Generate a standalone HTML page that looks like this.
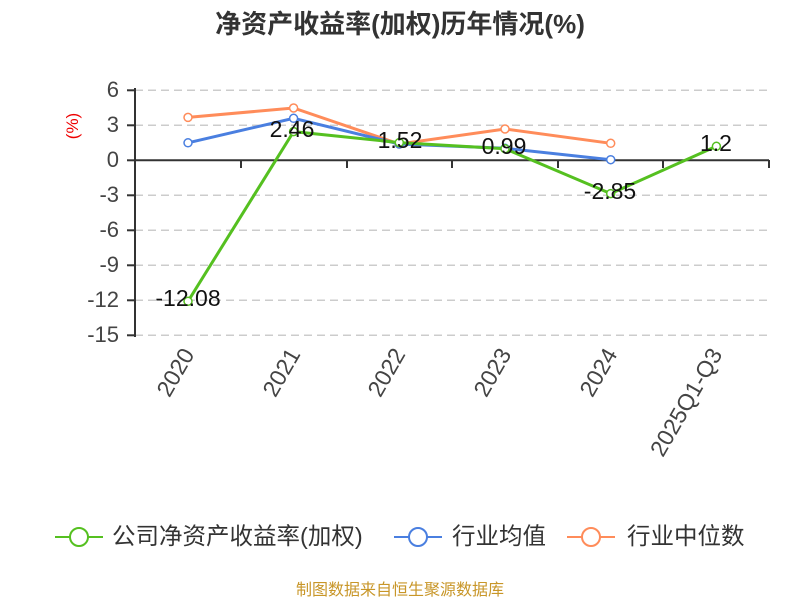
<!DOCTYPE html><html><head><meta charset="utf-8"><style>body{margin:0;background:#fff}svg{display:block}text{font-family:"Liberation Sans","Noto Sans CJK SC",sans-serif}</style></head><body>
<svg width="800" height="600" viewBox="0 0 800 600">
<text x="400" y="33" text-anchor="middle" font-size="26" font-weight="bold" fill="#333">净资产收益率(加权)历年情况(%)</text>
<g stroke="#ccc" stroke-dasharray="8,5" stroke-width="1.5">
<line x1="135" x2="769" y1="90.3" y2="90.3"/><line x1="135" x2="769" y1="125.3" y2="125.3"/><line x1="135" x2="769" y1="195.3" y2="195.3"/><line x1="135" x2="769" y1="230.3" y2="230.3"/><line x1="135" x2="769" y1="265.3" y2="265.3"/><line x1="135" x2="769" y1="300.3" y2="300.3"/><line x1="135" x2="769" y1="335.3" y2="335.3"/></g>
<g stroke="#333" stroke-width="2"><line x1="135" y1="88" x2="135" y2="337"/><line x1="135" y1="160.3" x2="769" y2="160.3"/>
<line x1="241" y1="160" x2="241" y2="168"/><line x1="347" y1="160" x2="347" y2="168"/><line x1="452" y1="160" x2="452" y2="168"/><line x1="558" y1="160" x2="558" y2="168"/><line x1="663" y1="160" x2="663" y2="168"/><line x1="769" y1="160" x2="769" y2="168"/>
<line x1="127" x2="135" y1="90.3" y2="90.3"/><line x1="127" x2="135" y1="125.3" y2="125.3"/><line x1="127" x2="135" y1="160.3" y2="160.3"/><line x1="127" x2="135" y1="195.3" y2="195.3"/><line x1="127" x2="135" y1="230.3" y2="230.3"/><line x1="127" x2="135" y1="265.3" y2="265.3"/><line x1="127" x2="135" y1="300.3" y2="300.3"/><line x1="127" x2="135" y1="335.3" y2="335.3"/></g>
<g font-size="22" fill="#444" text-anchor="end" dominant-baseline="middle">
<text x="119" y="91">6</text><text x="119" y="126">3</text><text x="119" y="161">0</text><text x="119" y="196">-3</text><text x="119" y="231">-6</text><text x="119" y="266">-9</text><text x="119" y="301">-12</text><text x="119" y="336">-15</text></g>
<text transform="translate(78,126) rotate(-90)" text-anchor="middle" font-size="17" fill="#e00">(%)</text>
<g font-size="23" fill="#444" text-anchor="end">
<text transform="translate(195,354) rotate(-60)">2020</text><text transform="translate(301,354) rotate(-60)">2021</text><text transform="translate(406,354) rotate(-60)">2022</text><text transform="translate(512,354) rotate(-60)">2023</text><text transform="translate(618,354) rotate(-60)">2024</text><text transform="translate(723,354) rotate(-60)">2025Q1-Q3</text></g>
<g fill="none" stroke-width="3">
<polyline stroke="#ff8c5a" points="188,117.4 293.6,108 399.3,144 505,129 610.7,143.3"/>
<polyline stroke="#4a7fe0" points="188,142.8 293.6,118.3 399.3,144 505,148.3 610.7,159.7"/>
<polyline stroke="#55c020" points="188,301.3 293.6,131.6 399.3,142.6 505,148.7 610.7,193.6 716.4,146.3"/></g>
<g fill="#fff" stroke-width="1.5">
<g stroke="#ff8c5a"><circle cx="188" cy="117.4" r="4"/><circle cx="293.6" cy="108" r="4"/><circle cx="399.3" cy="144" r="4"/><circle cx="505" cy="129" r="4"/><circle cx="610.7" cy="143.3" r="4"/></g>
<g stroke="#4a7fe0"><circle cx="188" cy="142.8" r="4"/><circle cx="293.6" cy="118.3" r="4"/><circle cx="399.3" cy="144" r="4"/><circle cx="505" cy="148.3" r="4"/><circle cx="610.7" cy="159.7" r="4"/></g>
<g stroke="#55c020"><circle cx="188" cy="301.3" r="4"/><circle cx="293.6" cy="131.6" r="4"/><circle cx="399.3" cy="142.6" r="4"/><circle cx="505" cy="148.7" r="4"/><circle cx="610.7" cy="193.6" r="4"/><circle cx="716.4" cy="146.3" r="4"/></g></g>
<g font-size="23" fill="#111" text-anchor="middle" dominant-baseline="middle">
<text x="188" y="300">-12.08</text><text x="292" y="131">2.46</text><text x="400" y="142">1.52</text><text x="504" y="148">0.99</text><text x="610" y="193">-2.85</text><text x="716" y="145">1.2</text></g>
<g stroke-width="2" fill="#fff">
<line x1="55" x2="103" y1="537" y2="537" stroke="#55c020"/><circle cx="79" cy="537" r="9" stroke="#55c020"/>
<line x1="394" x2="442" y1="537" y2="537" stroke="#4a7fe0"/><circle cx="418" cy="537" r="9" stroke="#4a7fe0"/>
<line x1="567" x2="615" y1="537" y2="537" stroke="#ff8c5a"/><circle cx="591" cy="537" r="9" stroke="#ff8c5a"/></g>
<g font-size="23.5" fill="#333" dominant-baseline="middle">
<text x="112" y="538">公司净资产收益率(加权)</text><text x="452" y="538">行业均值</text><text x="627" y="538">行业中位数</text></g>
<text x="400" y="595" text-anchor="middle" font-size="16" fill="#c89628">制图数据来自恒生聚源数据库</text>
</svg></body></html>
